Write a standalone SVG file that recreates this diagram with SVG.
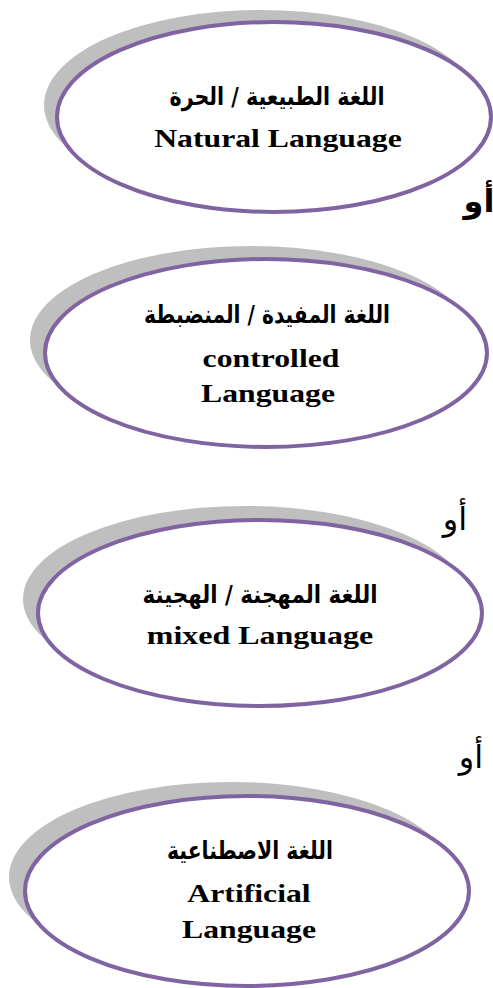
<svg xmlns="http://www.w3.org/2000/svg" width="493" height="988" viewBox="0 0 493 988">
<style>
.sh{fill:#BFBFBF;stroke:none}
.el{fill:#FFFFFF;stroke:#8064A2;stroke-width:4}
.en{font-family:"Liberation Serif","Times New Roman",serif;font-weight:bold;font-size:26px;fill:#000;text-anchor:middle}
.ar{font-family:"DejaVu Sans","Noto Sans",sans-serif;font-weight:bold;font-size:25px;fill:#000;text-anchor:middle}
.or{font-family:"DejaVu Sans","Noto Sans",sans-serif;font-size:32px;fill:#000;text-anchor:middle}
</style>
<rect width="493" height="988" fill="#FFFFFF"/>
<g id="node-natural">
<ellipse class="sh" cx="261" cy="105" rx="217" ry="95"/>
<ellipse class="el" cx="274" cy="117" rx="217" ry="95"/>
<text class="ar" x="277" y="105" textLength="215" lengthAdjust="spacingAndGlyphs">اللغة الطبيعية / الحرة</text>
<text class="en" transform="translate(278 147) scale(1.22 1)">Natural Language</text>
</g>
<g id="node-controlled">
<ellipse class="sh" cx="251" cy="340" rx="221" ry="94"/>
<ellipse class="el" cx="266" cy="353" rx="221" ry="94"/>
<text class="ar" x="267" y="323" textLength="246" lengthAdjust="spacingAndGlyphs">اللغة المفيدة / المنضبطة</text>
<text class="en" transform="translate(271 367) scale(1.22 1)">controlled</text>
<text class="en" transform="translate(268 402) scale(1.22 1)">Language</text>
</g>
<g id="node-mixed">
<ellipse class="sh" cx="245" cy="599" rx="222" ry="93"/>
<ellipse class="el" cx="260" cy="613" rx="222" ry="93"/>
<text class="ar" x="260" y="603" textLength="235" lengthAdjust="spacingAndGlyphs">اللغة المهجنة / الهجينة</text>
<text class="en" transform="translate(260 644) scale(1.23 1)">mixed Language</text>
</g>
<g id="node-artificial">
<ellipse class="sh" cx="231" cy="877" rx="222" ry="95"/>
<ellipse class="el" cx="247" cy="891" rx="222" ry="95"/>
<text class="ar" x="250" y="859" textLength="166" lengthAdjust="spacingAndGlyphs">اللغة الاصطناعية</text>
<text class="en" transform="translate(249 902) scale(1.22 1)">Artificial</text>
<text class="en" transform="translate(249 938) scale(1.22 1)">Language</text>
</g>
<g id="connectors">
<text class="or" x="479" y="212" font-weight="bold">أو</text>
<text class="or" x="455" y="530">أو</text>
<text class="or" x="471" y="768">أو</text>
</g>
</svg>
